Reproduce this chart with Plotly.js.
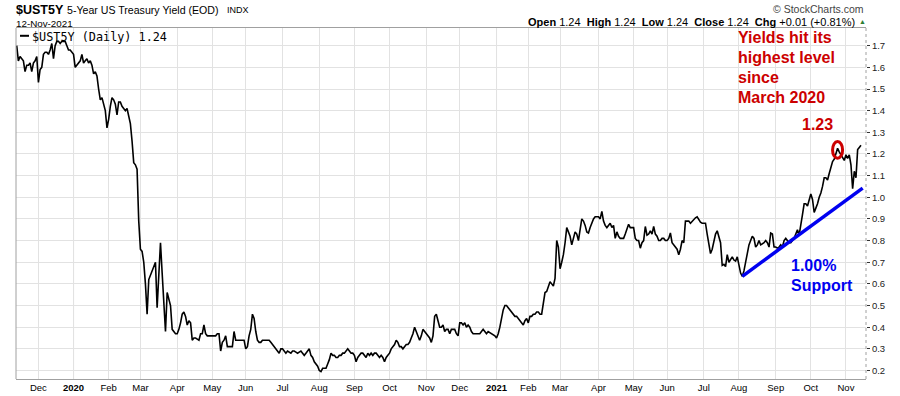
<!DOCTYPE html>
<html><head><meta charset="utf-8">
<script src="https://cdn.plot.ly/plotly-3.0.1.min.js"></script>
<style>html,body{margin:0;padding:0;background:#fff;}#chart{width:900px;height:396px;}</style>
</head><body><div id="chart"></div>
<script>
// ---- data (5-Year US Treasury Yield, daily close) ----
const days2019 = ["11-12","11-13","11-14","11-15","11-18","11-19","11-20","11-21","11-22","11-25","11-26","11-27","11-29",
"12-02","12-03","12-04","12-05","12-06","12-09","12-10","12-11","12-12","12-13","12-16","12-17","12-18","12-19","12-20","12-23","12-24","12-26","12-27","12-30","12-31"];
const yields2019 = [1.70,1.63,1.65,1.64,1.63,1.58,1.61,1.61,1.62,1.58,1.62,1.63,1.65,
1.53,1.59,1.60,1.66,1.67,1.67,1.66,1.68,1.71,1.64,1.70,1.72,1.72,1.71,1.72,1.72,1.72,1.70,1.68,1.68,1.67];

const days2020 = ["01-02","01-03","01-06","01-07","01-08","01-09","01-10","01-13","01-14","01-15","01-16","01-17","01-21","01-22","01-23","01-24","01-27","01-28","01-29","01-30","01-31",
"02-03","02-04","02-05","02-06","02-07","02-10","02-11","02-12","02-13","02-14","02-18","02-19","02-20","02-21","02-24","02-25","02-26","02-27","02-28",
"03-02","03-03","03-04","03-05","03-06","03-09","03-10","03-11","03-12","03-13","03-16","03-17","03-18","03-19","03-20","03-23","03-24","03-25","03-26","03-27","03-30","03-31",
"04-01","04-02","04-03","04-06","04-07","04-08","04-09","04-13","04-14","04-15","04-16","04-17","04-20","04-21","04-22","04-23","04-24","04-27","04-28","04-29","04-30",
"05-01","05-04","05-05","05-06","05-07","05-08","05-11","05-12","05-13","05-14","05-15","05-18","05-19","05-20","05-21","05-22","05-26","05-27","05-28","05-29",
"06-01","06-02","06-03","06-04","06-05","06-08","06-09","06-10","06-11","06-12","06-15","06-16","06-17","06-18","06-19","06-22","06-23","06-24","06-25","06-26","06-29","06-30",
"07-01","07-02","07-06","07-07","07-08","07-09","07-10","07-13","07-14","07-15","07-16","07-17","07-20","07-21","07-22","07-23","07-24","07-27","07-28","07-29","07-30","07-31",
"08-03","08-04","08-05","08-06","08-07","08-10","08-11","08-12","08-13","08-14","08-17","08-18","08-19","08-20","08-21","08-24","08-25","08-26","08-27","08-28","08-31",
"09-01","09-02","09-03","09-04","09-08","09-09","09-10","09-11","09-14","09-15","09-16","09-17","09-18","09-21","09-22","09-23","09-24","09-25","09-28","09-29","09-30",
"10-01","10-02","10-05","10-06","10-07","10-08","10-09","10-12","10-13","10-14","10-15","10-16","10-19","10-20","10-21","10-22","10-23","10-26","10-27","10-28","10-29","10-30",
"11-02","11-03","11-04","11-05","11-06","11-09","11-10","11-11","11-12","11-13","11-16","11-17","11-18","11-19","11-20","11-23","11-24","11-25","11-27","11-30",
"12-01","12-02","12-03","12-04","12-07","12-08","12-09","12-10","12-11","12-14","12-15","12-16","12-17","12-18","12-21","12-22","12-23","12-24","12-28","12-29","12-30","12-31"];
const yields2020 = [1.66,1.60,1.61,1.62,1.63,1.66,1.62,1.63,1.64,1.62,1.63,1.61,1.57,1.58,1.56,1.50,1.45,1.46,1.43,1.40,1.32,
1.36,1.42,1.46,1.45,1.43,1.38,1.44,1.44,1.42,1.41,1.40,1.41,1.38,1.34,1.26,1.16,1.15,1.13,0.89,
0.76,0.75,0.70,0.60,0.46,0.62,0.64,0.66,0.68,0.70,0.49,0.66,0.79,0.65,0.48,0.38,0.56,0.53,0.50,0.39,0.38,0.37,
0.37,0.39,0.42,0.46,0.47,0.45,0.41,0.43,0.42,0.34,0.35,0.35,0.345,0.34,0.37,0.37,0.41,0.37,0.36,0.36,0.36,
0.36,0.36,0.36,0.37,0.37,0.29,0.33,0.34,0.36,0.31,0.31,0.31,0.31,0.38,0.34,0.34,0.34,0.34,0.34,0.34,
0.30,0.31,0.36,0.39,0.46,0.44,0.38,0.34,0.33,0.33,0.34,0.34,0.34,0.34,0.34,0.33,0.32,0.31,0.30,0.29,0.28,0.30,
0.30,0.29,0.28,0.29,0.285,0.28,0.29,0.29,0.285,0.28,0.285,0.29,0.28,0.27,0.28,0.29,0.30,0.27,0.26,0.24,0.23,0.22,
0.20,0.195,0.21,0.21,0.21,0.23,0.25,0.28,0.27,0.27,0.26,0.26,0.27,0.27,0.28,0.28,0.29,0.30,0.29,0.28,0.28,
0.27,0.24,0.26,0.27,0.28,0.28,0.27,0.26,0.28,0.27,0.28,0.27,0.28,0.28,0.27,0.26,0.27,0.26,0.24,0.26,0.27,
0.28,0.30,0.31,0.32,0.34,0.33,0.31,0.31,0.30,0.31,0.32,0.32,0.33,0.35,0.37,0.40,0.38,0.36,0.34,0.36,0.39,0.38,
0.37,0.36,0.35,0.33,0.36,0.45,0.46,0.43,0.40,0.40,0.41,0.38,0.39,0.39,0.37,0.39,0.39,0.39,0.37,0.36,
0.42,0.42,0.41,0.42,0.40,0.41,0.40,0.38,0.37,0.37,0.37,0.37,0.37,0.38,0.39,0.38,0.37,0.38,0.375,0.37,0.365,0.36];

const days2021 = ["01-04","01-05","01-06","01-07","01-08","01-11","01-12","01-13","01-14","01-15","01-19","01-20","01-21","01-22","01-25","01-26","01-27","01-28","01-29",
"02-01","02-02","02-03","02-04","02-05","02-08","02-09","02-10","02-11","02-12","02-16","02-17","02-18","02-19","02-22","02-23","02-24","02-25","02-26",
"03-01","03-02","03-03","03-04","03-05","03-08","03-09","03-10","03-11","03-12","03-15","03-16","03-17","03-18","03-19","03-22","03-23","03-24","03-25","03-26","03-29","03-30","03-31",
"04-01","04-05","04-06","04-07","04-08","04-09","04-12","04-13","04-14","04-15","04-16","04-19","04-20","04-21","04-22","04-23","04-26","04-27","04-28","04-29","04-30",
"05-03","05-04","05-05","05-06","05-07","05-10","05-11","05-12","05-13","05-14","05-17","05-18","05-19","05-20","05-21","05-24","05-25","05-26","05-27","05-28",
"06-01","06-02","06-03","06-04","06-07","06-08","06-09","06-10","06-11","06-14","06-15","06-16","06-17","06-18","06-21","06-22","06-23","06-24","06-25","06-28","06-29","06-30",
"07-01","07-02","07-06","07-07","07-08","07-09","07-12","07-13","07-14","07-15","07-16","07-19","07-20","07-21","07-22","07-23","07-26","07-27","07-28","07-29","07-30",
"08-02","08-03","08-04","08-05","08-06","08-09","08-10","08-11","08-12","08-13","08-16","08-17","08-18","08-19","08-20","08-23","08-24","08-25","08-26","08-27","08-30","08-31",
"09-01","09-02","09-03","09-07","09-08","09-09","09-10","09-13","09-14","09-15","09-16","09-17","09-20","09-21","09-22","09-23","09-24","09-27","09-28","09-29","09-30",
"10-01","10-04","10-05","10-06","10-07","10-08","10-11","10-12","10-13","10-14","10-15","10-18","10-19","10-20","10-21","10-22","10-25","10-26","10-27","10-28","10-29",
"11-01","11-02","11-03","11-04","11-05","11-08","11-09","11-10","11-11","11-12"];
const yields2021 = [0.35,0.37,0.40,0.44,0.48,0.50,0.50,0.49,0.48,0.47,0.46,0.45,0.45,0.44,0.43,0.42,0.41,0.43,0.44,
0.42,0.45,0.45,0.46,0.46,0.47,0.47,0.46,0.46,0.52,0.56,0.565,0.59,0.61,0.60,0.59,0.625,0.80,0.77,
0.67,0.70,0.735,0.79,0.86,0.84,0.82,0.78,0.81,0.84,0.83,0.80,0.85,0.90,0.89,0.87,0.84,0.835,0.86,0.88,0.90,0.91,0.91,
0.91,0.90,0.935,0.89,0.87,0.86,0.87,0.88,0.86,0.87,0.81,0.84,0.82,0.81,0.81,0.81,0.83,0.85,0.875,0.86,0.86,
0.86,0.81,0.80,0.80,0.765,0.79,0.80,0.865,0.825,0.83,0.845,0.83,0.865,0.83,0.82,0.80,0.80,0.81,0.81,0.80,
0.80,0.81,0.835,0.79,0.78,0.77,0.76,0.735,0.76,0.80,0.79,0.89,0.89,0.89,0.88,0.89,0.90,0.905,0.91,0.895,0.885,0.88,
0.88,0.88,0.83,0.78,0.74,0.76,0.79,0.83,0.845,0.82,0.79,0.685,0.69,0.68,0.735,0.70,0.71,0.725,0.71,0.705,0.725,
0.68,0.65,0.635,0.66,0.70,0.74,0.78,0.80,0.82,0.81,0.77,0.78,0.80,0.78,0.785,0.79,0.80,0.79,0.77,0.835,0.83,0.77,
0.77,0.765,0.77,0.78,0.77,0.80,0.81,0.80,0.79,0.79,0.80,0.81,0.83,0.85,0.825,0.865,0.92,0.97,0.97,0.96,0.99,
1.015,0.99,0.93,0.95,0.97,1.00,1.02,1.05,1.09,1.09,1.08,1.11,1.14,1.165,1.176,1.20,1.226,1.21,1.196,1.18,1.17,
1.196,1.18,1.196,1.15,1.04,1.12,1.09,1.22,1.23,1.24];

// market holidays (no trading day on the axis)
const holidays = ["2019-11-28","2019-12-25","2020-01-01","2020-01-20","2020-02-17","2020-04-10","2020-05-25","2020-07-03",
"2020-09-07","2020-11-26","2020-12-25","2021-01-01","2021-01-18","2021-02-15","2021-04-02","2021-05-31","2021-07-05","2021-09-06"];

// axis ticks: first trading day of each month
const tickDates = ["2019-12-02","2020-01-02","2020-02-03","2020-03-02","2020-04-01","2020-05-01","2020-06-01","2020-07-01",
"2020-08-03","2020-09-01","2020-10-01","2020-11-02","2020-12-01","2021-01-04","2021-02-01","2021-03-01","2021-04-01",
"2021-05-03","2021-06-01","2021-07-01","2021-08-02","2021-09-01","2021-10-01","2021-11-01"];
const tickLabels = ["Dec","<b>2020</b>","Feb","Mar","Apr","May","Jun","Jul","Aug","Sep","Oct","Nov",
"Dec","<b>2021</b>","Feb","Mar","Apr","May","Jun","Jul","Aug","Sep","Oct","Nov"];
const yearStarts = ["2020-01-02","2021-01-04"];

// support trend line and highlighted peak
const supportDates = ["2021-08-04","2021-11-15"];
const supportValues = [0.635, 1.042];
const peakDate = "2021-10-25";
const peakLabel = "1.23";
const noteLines = ["Yields hit its", "highest level", "since", "March 2020"];
const supportLines = ["1.00%", "Support"];

// ---- build ----
const dates = [].concat(
  days2019.map(d => "2019-" + d),
  days2020.map(d => "2020-" + d),
  days2021.map(d => "2021-" + d));
const yields = [].concat(yields2019, yields2020, yields2021);
const last = yields[yields.length - 1];

const F = "Liberation Sans, Arial, sans-serif";
const RED = "#cc0000", BLUE = "#0000f0";

const traces = [
  {x: dates, y: yields, type: "scatter", mode: "lines", line: {color: "#000", width: 1.6}, hoverinfo: "skip", showlegend: false},
  {x: supportDates, y: supportValues, type: "scatter", mode: "lines", line: {color: BLUE, width: 3.5}, hoverinfo: "skip", showlegend: false}
];

const pk = dates.indexOf(peakDate);
const shapes = [
  ...yearStarts.map(d => ({type: "line", xref: "x", yref: "paper", x0: d, x1: d, y0: 0, y1: 1, line: {color: "#b4b4b4", width: 1}, layer: "below"})),
  {type: "line", xref: "paper", yref: "paper", x0: 0, x1: 0, y0: 0, y1: 1, line: {color: "#a0a0a0", width: 1}},
  {type: "line", xref: "paper", yref: "paper", x0: 1, x1: 1, y0: 0, y1: 1, line: {color: "#a0a0a0", width: 1, dash: "dot"}},
  {type: "line", xref: "paper", yref: "paper", x0: 0.0047, x1: 0.0153, y0: 0.9778, y1: 0.9778, line: {color: "#000", width: 2}},
  {type: "circle", xref: "x", yref: "y", x0: dates[pk - 3], x1: dates[pk + 3], y0: yields[pk] - 0.046, y1: yields[pk] + 0.031, line: {color: RED, width: 3}}
];

const ann = (o) => Object.assign({xref: "paper", yref: "paper", showarrow: false, yanchor: "middle", xanchor: "left", borderpad: 0}, o);
const PH = 351; // plot height in px, used to step text lines
const annotations = [
  ann({x: -0.0012, y: 1.0513, text: "<b>$UST5Y</b>", font: {family: F, size: 12.5, color: "#000"}}),
  ann({x: 0.0588, y: 1.0499, text: "5-Year US Treasury Yield (EOD)", font: {family: F, size: 10.6, color: "#000"}}),
  ann({x: 0.2470, y: 1.0499, text: "INDX", font: {family: F, size: 9, color: "#000"}}),
  ann({x: -0.0012, y: 1.0128, text: "12-Nov-2021", font: {family: F, size: 9.8, color: "#000"}}),
  ann({x: 0.9988, y: 1.0541, xanchor: "right", text: "\u00A9 StockCharts.com", font: {family: F, size: 10.5, color: "#444"}}),
  ann({x: 0.9882, y: 1.0165, xanchor: "right",
       text: "<b>Open</b> 1.24  <b>High</b> 1.24  <b>Low</b> 1.24  <b>Close</b> 1.24  <b>Chg</b> +0.01 (+0.81%)",
       font: {family: F, size: 11, color: "#000"}}),
  ann({x: 0.9953, y: 1.0180, xanchor: "center", text: "\u25B2", font: {family: F, size: 7, color: "#2e7d32"}}),
  ann({x: 0.0176, y: 0.9972, yanchor: "top", text: "$UST5Y (Daily) " + last.toFixed(2), font: {family: "DejaVu Sans Mono, monospace", size: 11.8, color: "#000"}}),
  ...noteLines.map((t, i) => ann({x: 0.8482, y: (379 - 37.5 - 20 * i) / PH, text: "<b>" + t + "</b>", font: {family: F, size: 16, color: RED}})),
  ann({x: 0.9435, y: 0.7256, xanchor: "center", text: "<b>" + peakLabel + "</b>", font: {family: F, size: 16, color: RED}}),
  ...supportLines.map((t, i) => ann({x: 0.9106, y: (379 - 265 - 20 * i) / PH, text: "<b>" + t + "</b>", font: {family: F, size: 16, color: BLUE}}))
];

const layout = {
  width: 900, height: 396,
  margin: {l: 16, r: 34, t: 28, b: 17, pad: 0},
  paper_bgcolor: "#fff", plot_bgcolor: "#fff",
  showlegend: false,
  xaxis: {
    type: "date", range: ["2019-11-11 14:00", "2021-11-17"],
    rangebreaks: [{bounds: ["sat", "mon"]}, {values: holidays}],
    tickmode: "array", tickvals: tickDates, ticktext: tickLabels,
    showgrid: true, gridcolor: "#e2e2e2", gridwidth: 1,
    ticks: "", showline: true, linecolor: "#a0a0a0", linewidth: 1, mirror: true,
    zeroline: false, fixedrange: true,
    tickfont: {family: F, size: 9.5, color: "#000"}
  },
  yaxis: {
    side: "right", range: [0.1607, 1.7817],
    tickmode: "linear", tick0: 0.2, dtick: 0.1, tickformat: ".1f",
    showgrid: true, gridcolor: "#e2e2e2", gridwidth: 1,
    ticks: "outside", ticklen: 3, tickcolor: "#333", tickwidth: 1,
    showline: false, zeroline: false, fixedrange: true,
    tickfont: {family: F, size: 9.5, color: "#222"}
  },
  shapes: shapes,
  annotations: annotations
};

Plotly.newPlot("chart", traces, layout, {displayModeBar: false, staticPlot: true});
</script>
</body></html>
